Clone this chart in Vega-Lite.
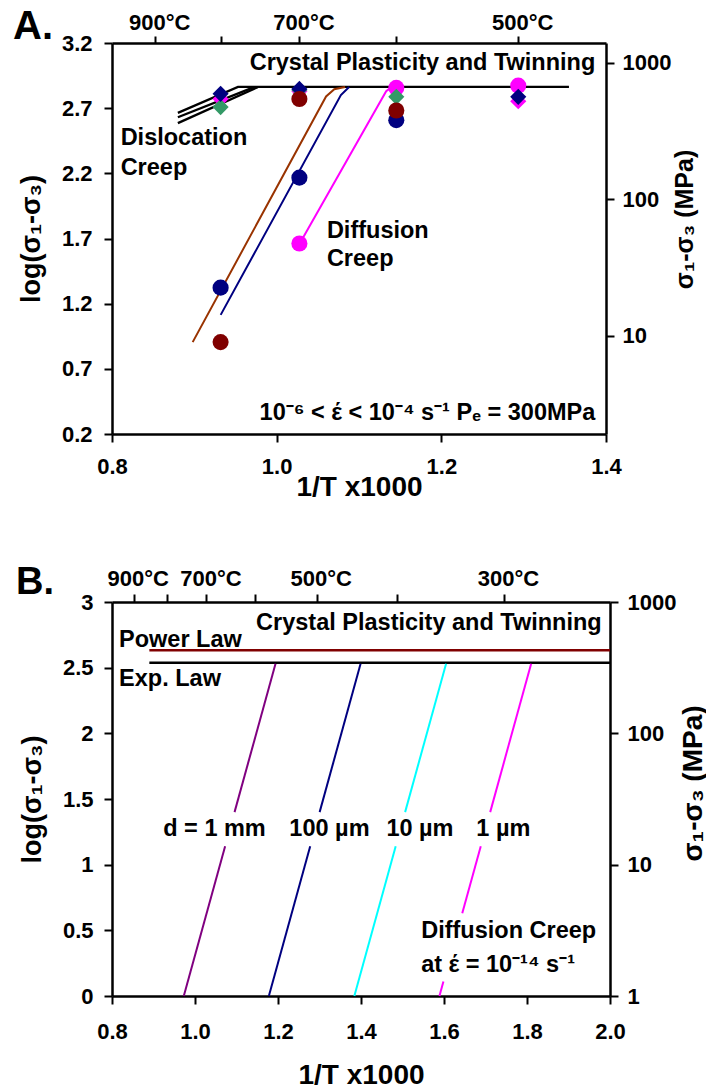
{
  "$schema": "https://vega.github.io/schema/vega-lite/v6.json",
  "background": "white",
  "padding": {"left": 13, "top": 7, "right": 0, "bottom": 0},
  "spacing": 168,
  "bounds": "flush",
  "config": {
    "view": {"stroke": null},
    "font": "Liberation Sans",
    "axis": {
      "grid": false, "domainColor": "black", "domainWidth": 2.5, "tickColor": "black", "tickWidth": 2, "tickSize": 8,
      "labelFont": "Liberation Sans", "labelFontWeight": "bold", "labelFontSize": 22, "labelColor": "black",
      "labelFlush": false, "labelOverlap": false, "titleFont": "Liberation Sans", "titleFontWeight": "bold", "titleFontSize": 27, "titleColor": "black"
    },
    "text": {"font": "Liberation Sans", "fontWeight": "bold", "fontSize": 23.5, "color": "black"},
    "title": {"font": "Liberation Sans", "fontWeight": "bold", "fontSize": 40, "color": "black"}
  },
  "vconcat": [
    {
      "width": 494, "height": 391,
      "title": {"text": "A.", "anchor": "start", "frame": "group", "dx": -99, "offset": -36},
      "layer": [
        {
          "layer": [
            {
              "data": {"values": [
                {"curve": "dislocation 1", "invT": 0.880, "logS": 2.664},
                {"curve": "dislocation 1", "invT": 0.953, "logS": 2.863},
                {"curve": "dislocation 1", "invT": 1.355, "logS": 2.863},
                {"curve": "dislocation 2", "invT": 0.880, "logS": 2.630},
                {"curve": "dislocation 2", "invT": 0.971, "logS": 2.858},
                {"curve": "dislocation 3", "invT": 0.880, "logS": 2.585},
                {"curve": "dislocation 3", "invT": 0.977, "logS": 2.861}
              ]},
              "mark": {"type": "line", "color": "black", "strokeWidth": 2.3},
              "encoding": {
                "x": {"field": "invT", "type": "quantitative", "title": "1/T x1000",
                  "scale": {"domain": [0.8, 1.4], "nice": false, "zero": false},
                  "axis": {"orient": "bottom", "values": [0.8, 1.0, 1.2, 1.4], "format": ".1f", "labelPadding": 14, "titleY": 53, "titleBaseline": "middle", "titleFontSize": 28}},
                "y": {"field": "logS", "type": "quantitative", "title": "log(σ₁-σ₃)",
                  "scale": {"domain": [0.2, 3.2], "nice": false, "zero": false},
                  "axis": {"orient": "left", "values": [0.2, 0.7, 1.2, 1.7, 2.2, 2.7, 3.2], "format": ".1f", "labelPadding": 12, "titleX": -81, "titleBaseline": "middle"}},
                "detail": {"field": "curve"}
              }
            },
            {
              "data": {"values": [
                {"curve": "fit A", "invT": 0.898, "logS": 0.905},
                {"curve": "fit A", "invT": 1.060, "logS": 2.790},
                {"curve": "fit A", "invT": 1.070, "logS": 2.845},
                {"curve": "fit A", "invT": 1.083, "logS": 2.863},
                {"curve": "fit B", "invT": 0.932, "logS": 1.114},
                {"curve": "fit B", "invT": 1.078, "logS": 2.800},
                {"curve": "fit B", "invT": 1.088, "logS": 2.863},
                {"curve": "fit C", "invT": 1.028, "logS": 1.662},
                {"curve": "fit C", "invT": 1.133, "logS": 2.830},
                {"curve": "fit C", "invT": 1.140, "logS": 2.863}
              ]},
              "mark": {"type": "line", "strokeWidth": 2},
              "encoding": {
                "x": {"field": "invT", "type": "quantitative", "title": "1/T x1000"},
                "y": {"field": "logS", "type": "quantitative", "title": "log(σ₁-σ₃)"},
                "color": {"field": "curve", "type": "nominal", "legend": null,
                  "scale": {"domain": ["fit A", "fit B", "fit C"], "range": ["#993300", "#000080", "#FF00FF"]}}
              }
            },
            {
              "data": {"values": [
                {"sample": "s3", "marker": "circle", "invT": 1.1453, "logS": 2.856},
                {"sample": "s3", "marker": "circle", "invT": 1.2934, "logS": 2.873},
                {"sample": "s3", "marker": "circle", "invT": 1.0276, "logS": 1.662},
                {"sample": "s3", "marker": "diamond", "invT": 0.9319, "logS": 2.770},
                {"sample": "s3", "marker": "diamond", "invT": 1.0276, "logS": 2.830},
                {"sample": "s3", "marker": "diamond", "invT": 1.2934, "logS": 2.753},
                {"sample": "s4", "marker": "diamond", "invT": 0.9319, "logS": 2.708},
                {"sample": "s4", "marker": "diamond", "invT": 1.0276, "logS": 2.840},
                {"sample": "s4", "marker": "diamond", "invT": 1.1453, "logS": 2.787},
                {"sample": "s1", "marker": "diamond", "invT": 0.9319, "logS": 2.810},
                {"sample": "s1", "marker": "diamond", "invT": 1.0276, "logS": 2.848},
                {"sample": "s1", "marker": "diamond", "invT": 1.2934, "logS": 2.787},
                {"sample": "s1", "marker": "circle", "invT": 0.9319, "logS": 1.323},
                {"sample": "s1", "marker": "circle", "invT": 1.0276, "logS": 2.167},
                {"sample": "s1", "marker": "circle", "invT": 1.1453, "logS": 2.608},
                {"sample": "s2", "marker": "circle", "invT": 0.9319, "logS": 0.905},
                {"sample": "s2", "marker": "circle", "invT": 1.0276, "logS": 2.770},
                {"sample": "s2", "marker": "circle", "invT": 1.1453, "logS": 2.682}
              ]},
              "mark": {"type": "point", "filled": true, "opacity": 1, "size": 260},
              "encoding": {
                "x": {"field": "invT", "type": "quantitative", "title": "1/T x1000"},
                "y": {"field": "logS", "type": "quantitative", "title": "log(σ₁-σ₃)"},
                "color": {"field": "sample", "type": "nominal", "legend": null,
                  "scale": {"domain": ["s1", "s2", "s3", "s4"], "range": ["#000080", "#800000", "#FF00FF", "#339966"]}},
                "shape": {"field": "marker", "type": "nominal", "legend": null,
                  "scale": {"domain": ["circle", "diamond"], "range": ["circle", "diamond"]}}
              }
            },
            {
              "data": {"values": [
                {"label": "Crystal Plasticity and Twinning", "invT": 1.387, "logS": 2.99},
                {"label": "10⁻⁶ < έ < 10⁻⁴ s⁻¹  Pₑ = 300MPa", "invT": 1.387, "logS": 0.31}
              ]},
              "mark": {"type": "text", "align": "right", "baseline": "alphabetic"},
              "encoding": {
                "x": {"field": "invT", "type": "quantitative", "title": "1/T x1000"},
                "y": {"field": "logS", "type": "quantitative", "title": "log(σ₁-σ₃)"},
                "text": {"field": "label"}
              }
            },
            {
              "data": {"values": [
                {"label": "Dislocation", "invT": 0.8105, "logS": 2.414},
                {"label": "Creep", "invT": 0.8105, "logS": 2.185},
                {"label": "Diffusion", "invT": 1.061, "logS": 1.706},
                {"label": "Creep", "invT": 1.061, "logS": 1.486}
              ]},
              "mark": {"type": "text", "align": "left", "baseline": "alphabetic"},
              "encoding": {
                "x": {"field": "invT", "type": "quantitative", "title": "1/T x1000"},
                "y": {"field": "logS", "type": "quantitative", "title": "log(σ₁-σ₃)"},
                "text": {"field": "label"}
              }
            }
          ],
          "resolve": {"scale": {"color": "independent"}}
        },
        {
          "data": {"values": [
            {"T_C": 900, "invT": 0.8525}, {"T_C": 800, "invT": 0.9319}, {"T_C": 700, "invT": 1.0276},
            {"T_C": 600, "invT": 1.1453}, {"T_C": 500, "invT": 1.2934}
          ]},
          "mark": {"type": "rule", "opacity": 0},
          "encoding": {
            "x": {"field": "invT", "type": "quantitative", "title": null,
              "scale": {"domain": [0.8, 1.4], "nice": false, "zero": false},
              "axis": {"orient": "top", "values": [0.8525, 0.9319, 1.0276, 1.1453, 1.2934],
                "labelExpr": "datum.value < 0.9 ? '900°C' : abs(datum.value - 1.0276) < 0.01 ? '700°C' : abs(datum.value - 1.2934) < 0.01 ? '500°C' : ''",
                "labelPadding": 2, "labelOffset": 4, "tickSize": 7}}
          }
        },
        {
          "data": {"values": [{"MPa": 10}, {"MPa": 100}, {"MPa": 1000}]},
          "mark": {"type": "rule", "opacity": 0},
          "encoding": {
            "y": {"field": "MPa", "type": "quantitative", "title": "σ₁-σ₃ (MPa)",
              "scale": {"type": "log", "domain": [1.91, 1400], "nice": false},
              "axis": {"orient": "right", "values": [10, 100, 1000], "format": "d", "labelPadding": 8,
                "titleAngle": 270, "titleX": 78, "titleY": 176, "titleBaseline": "middle", "titleAlign": "center", "titleFontSize": 25}}
          }
        }
      ],
      "resolve": {"scale": {"y": "independent"}, "axis": {"x": "independent", "y": "independent"}}
    },
    {
      "width": 498, "height": 394,
      "title": {"text": "B.", "anchor": "start", "frame": "group", "dx": -96, "offset": -35, "fontSize": 38},
      "layer": [
        {
          "layer": [
            {
              "data": {"values": [
                {"law": "Power Law", "invT": 0.890, "logS": 2.633},
                {"law": "Power Law", "invT": 2.0, "logS": 2.633},
                {"law": "Exp. Law", "invT": 0.890, "logS": 2.537},
                {"law": "Exp. Law", "invT": 2.0, "logS": 2.537}
              ]},
              "mark": {"type": "line", "strokeWidth": 2.5},
              "encoding": {
                "x": {"field": "invT", "type": "quantitative", "title": "1/T x1000",
                  "scale": {"domain": [0.8, 2.0], "nice": false, "zero": false},
                  "axis": {"orient": "bottom", "values": [0.8, 1.0, 1.2, 1.4, 1.6, 1.8, 2.0], "format": ".1f", "labelPadding": 17, "titleY": 79, "titleBaseline": "middle", "titleFontSize": 28}},
                "y": {"field": "logS", "type": "quantitative", "title": "log(σ₁-σ₃)",
                  "scale": {"domain": [0, 3], "nice": false, "zero": false},
                  "axis": {"orient": "left", "values": [0, 0.5, 1, 1.5, 2, 2.5, 3], "format": ".1~f", "labelPadding": 11, "titleX": -80, "titleBaseline": "middle"}},
                "color": {"field": "law", "type": "nominal", "legend": null,
                  "scale": {"domain": ["Power Law", "Exp. Law"], "range": ["#800000", "#000000"]}}
              }
            },
            {
              "data": {"values": [
                {"grain": "1 mm", "part": "lower", "invT": 0.973, "logS": 0},
                {"grain": "1 mm", "part": "lower", "invT": 1.0726, "logS": 1.14},
                {"grain": "1 mm", "part": "upper", "invT": 1.0953, "logS": 1.40},
                {"grain": "1 mm", "part": "upper", "invT": 1.194, "logS": 2.53},
                {"grain": "100 µm", "part": "lower", "invT": 1.178, "logS": 0},
                {"grain": "100 µm", "part": "lower", "invT": 1.2776, "logS": 1.14},
                {"grain": "100 µm", "part": "upper", "invT": 1.3003, "logS": 1.40},
                {"grain": "100 µm", "part": "upper", "invT": 1.399, "logS": 2.53},
                {"grain": "10 µm", "part": "lower", "invT": 1.384, "logS": 0},
                {"grain": "10 µm", "part": "lower", "invT": 1.4836, "logS": 1.14},
                {"grain": "10 µm", "part": "upper", "invT": 1.5063, "logS": 1.40},
                {"grain": "10 µm", "part": "upper", "invT": 1.605, "logS": 2.53},
                {"grain": "1 µm", "part": "bottom", "invT": 1.589, "logS": 0},
                {"grain": "1 µm", "part": "bottom", "invT": 1.5986, "logS": 0.11},
                {"grain": "1 µm", "part": "lower", "invT": 1.644, "logS": 0.63},
                {"grain": "1 µm", "part": "lower", "invT": 1.6886, "logS": 1.14},
                {"grain": "1 µm", "part": "upper", "invT": 1.7113, "logS": 1.40},
                {"grain": "1 µm", "part": "upper", "invT": 1.810, "logS": 2.53}
              ]},
              "mark": {"type": "line", "strokeWidth": 2},
              "encoding": {
                "x": {"field": "invT", "type": "quantitative", "title": "1/T x1000"},
                "y": {"field": "logS", "type": "quantitative", "title": "log(σ₁-σ₃)"},
                "color": {"field": "grain", "type": "nominal", "legend": null,
                  "scale": {"domain": ["1 mm", "100 µm", "10 µm", "1 µm"], "range": ["#800080", "#000080", "#00FFFF", "#FF00FF"]}},
                "detail": {"field": "part"}
              }
            },
            {
              "data": {"values": [
                {"label": "Crystal Plasticity and Twinning", "invT": 1.98, "logS": 2.785}
              ]},
              "mark": {"type": "text", "align": "right", "baseline": "alphabetic"},
              "encoding": {
                "x": {"field": "invT", "type": "quantitative", "title": "1/T x1000"},
                "y": {"field": "logS", "type": "quantitative", "title": "log(σ₁-σ₃)"},
                "text": {"field": "label"}
              }
            },
            {
              "data": {"values": [
                {"label": "Power Law", "invT": 0.817, "logS": 2.655},
                {"label": "Exp. Law", "invT": 0.817, "logS": 2.364},
                {"label": "Diffusion Creep", "invT": 1.545, "logS": 0.44},
                {"label": "at  έ = 10⁻¹⁴ s⁻¹", "invT": 1.545, "logS": 0.186}
              ]},
              "mark": {"type": "text", "align": "left", "baseline": "alphabetic"},
              "encoding": {
                "x": {"field": "invT", "type": "quantitative", "title": "1/T x1000"},
                "y": {"field": "logS", "type": "quantitative", "title": "log(σ₁-σ₃)"},
                "text": {"field": "label"}
              }
            },
            {
              "data": {"values": [
                {"label": "d = 1 mm", "invT": 1.047, "logS": 1.22},
                {"label": "100 µm", "invT": 1.324, "logS": 1.22},
                {"label": "10 µm", "invT": 1.542, "logS": 1.22},
                {"label": "1 µm", "invT": 1.743, "logS": 1.22}
              ]},
              "mark": {"type": "text", "align": "center", "baseline": "alphabetic"},
              "encoding": {
                "x": {"field": "invT", "type": "quantitative", "title": "1/T x1000"},
                "y": {"field": "logS", "type": "quantitative", "title": "log(σ₁-σ₃)"},
                "text": {"field": "label"}
              }
            }
          ],
          "resolve": {"scale": {"color": "independent"}}
        },
        {
          "data": {"values": [
            {"T_C": 900, "invT": 0.8525}, {"T_C": 800, "invT": 0.9319}, {"T_C": 700, "invT": 1.0276},
            {"T_C": 600, "invT": 1.1453}, {"T_C": 500, "invT": 1.2934}, {"T_C": 400, "invT": 1.4856},
            {"T_C": 300, "invT": 1.7447}
          ]},
          "mark": {"type": "rule", "opacity": 0},
          "encoding": {
            "x": {"field": "invT", "type": "quantitative", "title": null,
              "scale": {"domain": [0.8, 2.0], "nice": false, "zero": false},
              "axis": {"orient": "top", "values": [0.8525, 0.9319, 1.0276, 1.1453, 1.2934, 1.4856, 1.7447],
                "labelExpr": "datum.value < 0.9 ? '900°C' : abs(datum.value - 1.0276) < 0.01 ? '700°C' : abs(datum.value - 1.2934) < 0.01 ? '500°C' : abs(datum.value - 1.7447) < 0.01 ? '300°C' : ''",
                "labelPadding": 4, "labelOffset": 4, "tickSize": 8}}
          }
        },
        {
          "data": {"values": [{"MPa": 1}, {"MPa": 10}, {"MPa": 100}, {"MPa": 1000}]},
          "mark": {"type": "rule", "opacity": 0},
          "encoding": {
            "y": {"field": "MPa", "type": "quantitative", "title": "σ₁-σ₃ (MPa)",
              "scale": {"type": "log", "domain": [1, 1000], "nice": false},
              "axis": {"orient": "right", "values": [1, 10, 100, 1000], "format": "d", "labelPadding": 9,
                "titleAngle": 270, "titleX": 83, "titleY": 181, "titleBaseline": "middle", "titleAlign": "center", "titleFontSize": 28}}
          }
        }
      ],
      "resolve": {"scale": {"y": "independent"}, "axis": {"x": "independent", "y": "independent"}}
    }
  ]
}
